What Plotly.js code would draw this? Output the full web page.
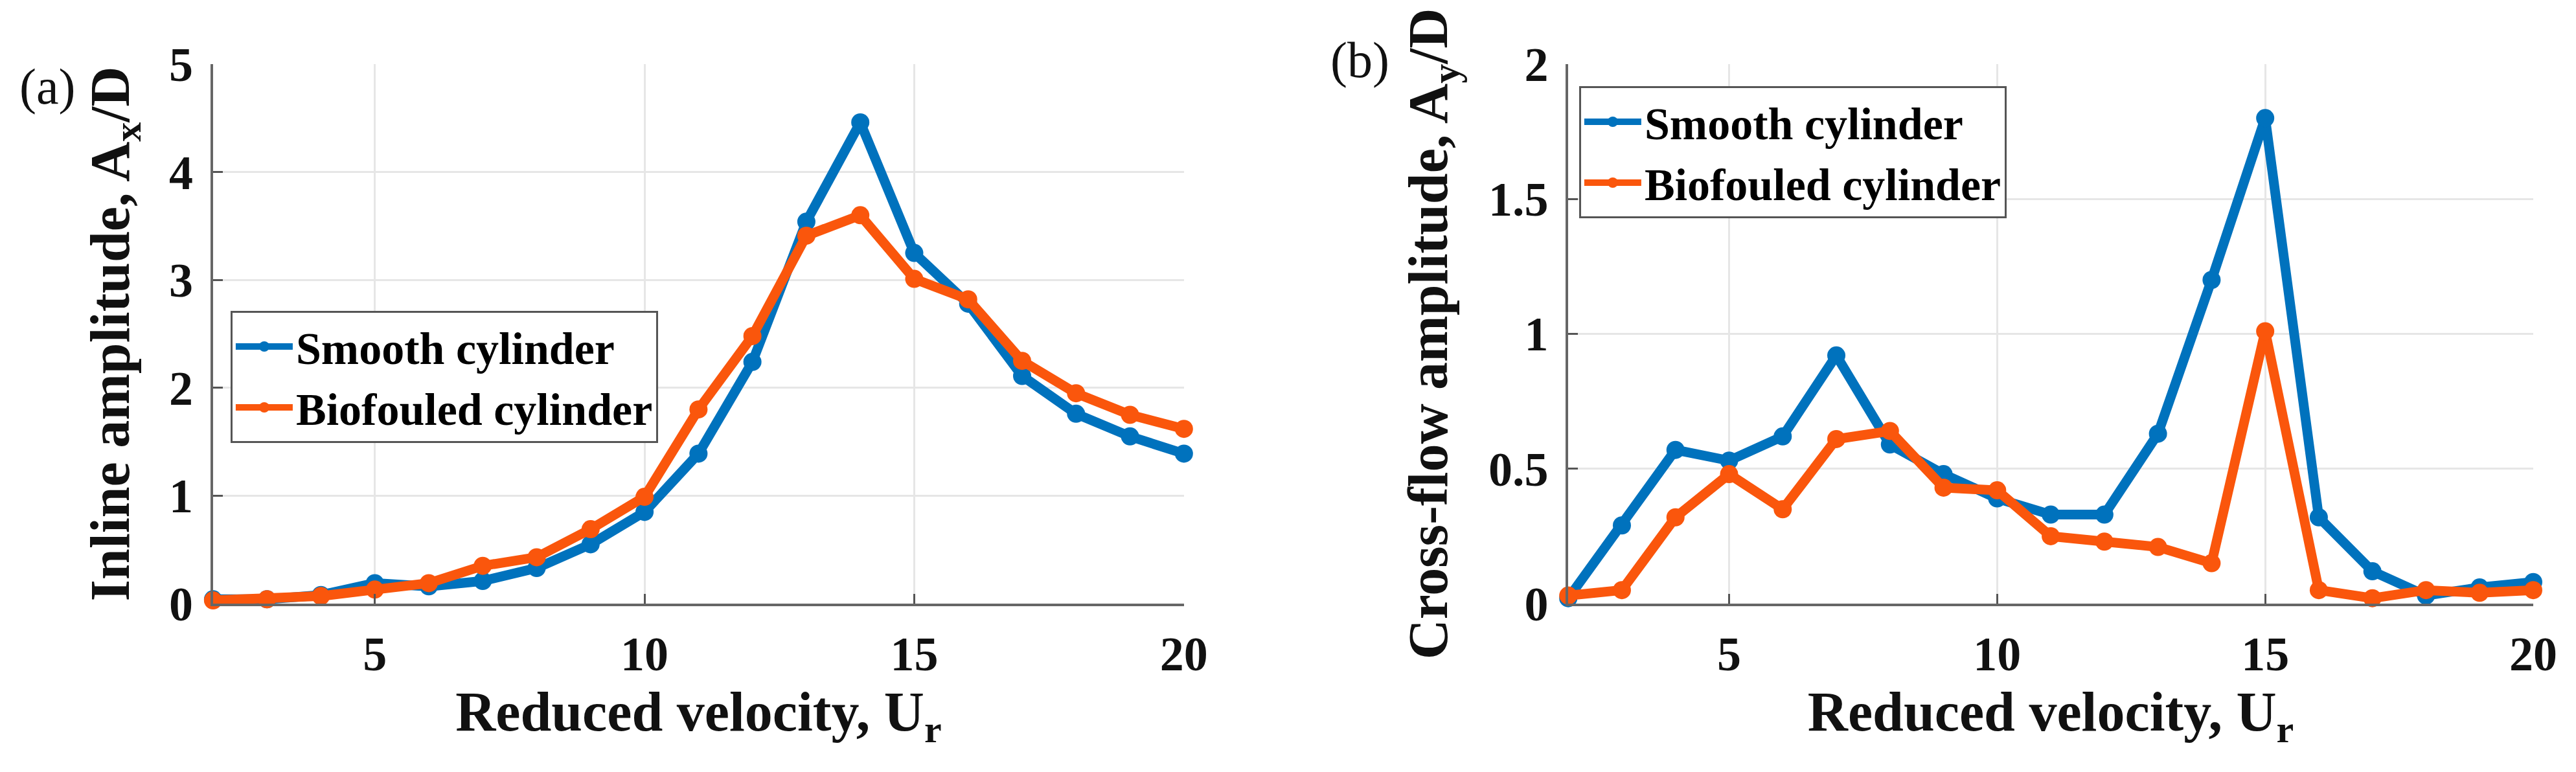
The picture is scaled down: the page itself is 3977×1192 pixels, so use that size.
<!DOCTYPE html>
<html>
<head>
<meta charset="utf-8">
<script src="https://cdn.plot.ly/plotly-3.0.1.min.js"></script>
<style>
  body { margin: 0; background: #fff; }
  #graph { width: 3977px; height: 1192px; }
</style>
</head>
<body>
<div id="graph"></div>
<script>
// Reduced velocity values (shared by both panels)
const ur = [2, 3, 4, 5, 6, 7, 8, 9, 10, 11, 12, 13, 14, 15, 16, 17, 18, 19, 20];

// (a) Inline amplitude Ax/D
const smoothInline =    [0.04, 0.04, 0.08, 0.19, 0.16, 0.21, 0.33, 0.55, 0.85, 1.39, 2.24, 3.54, 4.46, 3.25, 2.78, 2.11, 1.76, 1.55, 1.39];
const biofouledInline = [0.03, 0.04, 0.07, 0.13, 0.19, 0.35, 0.43, 0.69, 0.99, 1.80, 2.48, 3.41, 3.60, 3.01, 2.82, 2.25, 1.95, 1.75, 1.62];

// (b) Cross-flow amplitude Ay/D
const smoothCross =    [0.02, 0.29, 0.57, 0.53, 0.62, 0.92, 0.59, 0.48, 0.39, 0.33, 0.33, 0.63, 1.20, 1.80, 0.32, 0.12, 0.03, 0.06, 0.08];
const biofouledCross = [0.03, 0.05, 0.32, 0.48, 0.35, 0.61, 0.64, 0.43, 0.42, 0.25, 0.23, 0.21, 0.15, 1.01, 0.05, 0.02, 0.05, 0.04, 0.05];

const seriesNames = ["Smooth cylinder", "Biofouled cylinder"];
const xTickVals = [5, 10, 15, 20];
const yTickValsA = [0, 1, 2, 3, 4, 5];
const yTickValsB = [0, 0.5, 1, 1.5, 2];
const yTickTextB = ["0", "0.5", "1", "1.5", "2"];

const blue = "#0072BD";
const orange = "#FA560C";
const serif = "Liberation Serif, Times New Roman, serif";

function line(x, y, name, color, xa, ya, legend) {
    return {
        x: x, y: y, name: name, xaxis: xa, yaxis: ya, legend: legend,
        mode: "lines+markers", type: "scatter",
        line: {color: color, width: 15},
        marker: {color: color, size: 28, symbol: "circle"},
        cliponaxis: false
    };
}

let data = [
    line(ur, smoothInline, seriesNames[0], blue, "x", "y", "legend"),
    line(ur, biofouledInline, seriesNames[1], orange, "x", "y", "legend"),
    line(ur, smoothCross, seriesNames[0], blue, "x2", "y2", "legend2"),
    line(ur, biofouledCross, seriesNames[1], orange, "x2", "y2", "legend2")
];

const tickFont = {family: serif, size: 74, color: "#111", weight: "bold"};
const titleFont = {family: serif, size: 86, color: "#111", weight: "bold"};

function xAxis(domain, anchor) {
    return {
        domain: domain, anchor: anchor, range: [2, 20],
        tickvals: xTickVals, ticks: "inside", ticklen: 15, tickwidth: 3, tickcolor: "#555",
        showline: true, linecolor: "#666", linewidth: 4, mirror: false,
        showgrid: true, gridcolor: "#e6e6e6", gridwidth: 3, zeroline: false,
        tickfont: tickFont, ticklabelstandoff: 10,
        title: {text: "Reduced velocity, U<sub>r</sub>", font: titleFont, standoff: 16}
    };
}

function yAxis(domain, anchor, range, vals, text, title, standoff) {
    return {
        domain: domain, anchor: anchor, range: range,
        tickvals: vals, ticktext: text, ticks: "inside", ticklen: 15, tickwidth: 3, tickcolor: "#555",
        showline: true, linecolor: "#666", linewidth: 4, mirror: false,
        showgrid: true, gridcolor: "#e6e6e6", gridwidth: 3, zeroline: false,
        tickfont: tickFont, ticklabelstandoff: 12,
        title: {text: title, font: titleFont, standoff: standoff}
    };
}

const legendStyle = {
    font: {family: serif, size: 70, color: "#000", weight: "bold"},
    bgcolor: "#fff", bordercolor: "#555", borderwidth: 3,
    xanchor: "left", yanchor: "top", tracegroupgap: 0, itemwidth: 88
};

let layout = {
    width: 3977, height: 1192,
    margin: {l: 0, r: 0, t: 0, b: 0},
    paper_bgcolor: "#fff", plot_bgcolor: "#fff",
    xaxis: xAxis([0.0827, 0.4596], "y"),
    yaxis: yAxis([0.2181, 0.9169], "x", [0, 5], yTickValsA, yTickValsA.map(String),
                 "Inline amplitude, A<sub>x</sub>/D", 34),
    xaxis2: xAxis([0.6088, 0.9834], "y2"),
    yaxis2: yAxis([0.2181, 0.9169], "x2", [0, 2], yTickValsB, yTickTextB,
                  "Cross-flow amplitude, A<sub>y</sub>/D", 36),
    legend: Object.assign({x: 0.0895, y: 0.5973}, legendStyle),
    legend2: Object.assign({x: 0.613, y: 0.8884}, legendStyle),
    annotations: [
        {text: "(a)", xref: "paper", yref: "paper", x: 0.01836, y: 0.8884, showarrow: false,
         xanchor: "center", yanchor: "middle", font: {family: serif, size: 78, color: "#111"}},
        {text: "(b)", xref: "paper", yref: "paper", x: 0.5278, y: 0.9228, showarrow: false,
         xanchor: "center", yanchor: "middle", font: {family: serif, size: 78, color: "#111"}}
    ]
};

Plotly.newPlot("graph", data, layout, {staticPlot: true});
</script>
</body>
</html>
